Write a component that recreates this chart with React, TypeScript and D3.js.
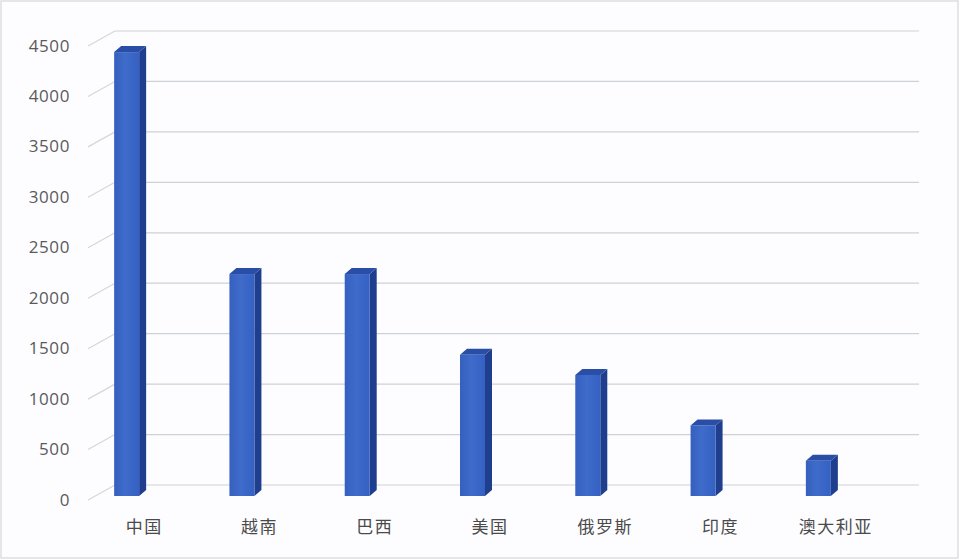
import React, { useEffect, useRef } from 'react';
import { scaleBand, scaleLinear, select, range } from 'd3';

const categories = ['中国', '越南', '巴西', '美国', '俄罗斯', '印度', '澳大利亚'];
const values = [4400, 2200, 2200, 1400, 1200, 700, 350];
const yTicks = [0, 500, 1000, 1500, 2000, 2500, 3000, 3500, 4000, 4500];

const W = 960;
const H = 560;
// 3d wall offset (floor depth) and bar depth
const wallDx = 27, wallDy = -15;
const barDx = 7, barDy = -6;

const App: React.FC = () => {
  const svgRef = useRef<SVGSVGElement>(null);

  useEffect(() => {
    const svg = select(svgRef.current);
    svg.selectAll('*').remove();

    const x = scaleBand<string>().domain(categories).range([86.5, 893.5]);
    const yBack = scaleLinear().domain([0, 4500]).range([485, 31]);
    const yFront = scaleLinear().domain([0, 4500]).range([496, 42]);

    const defs = svg.append('defs');
    const grad = defs.append('linearGradient').attr('id', 'front').attr('x1', 0).attr('x2', 1).attr('y1', 0).attr('y2', 0);
    grad.append('stop').attr('offset', '0%').attr('stop-color', '#3560c0');
    grad.append('stop').attr('offset', '45%').attr('stop-color', '#3f6bcb');
    grad.append('stop').attr('offset', '100%').attr('stop-color', '#3461c2');

    // background + border
    svg.append('rect').attr('x', 1).attr('y', 1).attr('width', W - 3).attr('height', H - 3)
      .attr('fill', '#fdfdff').attr('stroke', '#dcdee2').attr('stroke-width', 1.5);

    // gridlines on back wall with diagonal side lines
    const grid = svg.append('g');
    grid.selectAll('.hline').data(yTicks).join('line')
      .attr('x1', 88 + wallDx).attr('x2', 919)
      .attr('y1', d => yBack(d)).attr('y2', d => yBack(d))
      .attr('stroke', '#cdd1d8').attr('stroke-width', 1.2);
    grid.selectAll('.dline').data(yTicks).join('line')
      .attr('x1', 88).attr('y1', d => yBack(d) - wallDy)
      .attr('x2', 88 + wallDx).attr('y2', d => yBack(d))
      .attr('stroke', '#d3d6dc').attr('stroke-width', 1.2);

    // y tick labels
    svg.append('g').selectAll('text').data(yTicks).join('text')
      .attr('x', 70).attr('y', d => yBack(d) - wallDy + 1)
      .attr('text-anchor', 'end').attr('dominant-baseline', 'middle')
      .attr('font-family', '"Open Sans", "DejaVu Sans", sans-serif')
      .attr('font-size', 17).attr('letter-spacing', 0.6).attr('fill', '#5a5a5a')
      .text(d => String(d));

    // bars: front face offset to the left of floor center (3d projection)
    const barW = 25;
    const shift = -30;
    const bars = svg.append('g').selectAll('g').data(range(categories.length)).join('g');
    const bx = (i: number) => (x(categories[i]) as number) + x.bandwidth() / 2 + shift;

    // side face
    bars.append('path')
      .attr('d', i => {
        const x0 = bx(i) + barW, y0 = yFront(values[i]), yb = yFront(0);
        return `M${x0},${y0} L${x0 + barDx},${y0 + barDy} L${x0 + barDx},${yb + barDy} L${x0},${yb} Z`;
      })
      .attr('fill', '#1f3f8e');
    // top face
    bars.append('path')
      .attr('d', i => {
        const x0 = bx(i), y0 = yFront(values[i]);
        return `M${x0},${y0} L${x0 + barDx},${y0 + barDy} L${x0 + barW + barDx},${y0 + barDy} L${x0 + barW},${y0} Z`;
      })
      .attr('fill', '#2a4ea5');
    // front face
    bars.append('rect')
      .attr('x', i => bx(i)).attr('width', barW)
      .attr('y', i => yFront(values[i]))
      .attr('height', i => yFront(0) - yFront(values[i]))
      .attr('fill', 'url(#front)');

    // category labels
    svg.append('g').selectAll('text').data(categories).join('text')
      .attr('x', d => (x(d) as number) + x.bandwidth() / 2)
      .attr('y', 528)
      .attr('text-anchor', 'middle').attr('dominant-baseline', 'middle')
      .attr('font-family', '"Noto Sans CJK SC", sans-serif')
      .attr('font-size', 17).attr('letter-spacing', 1.5).attr('fill', '#4a4a4a')
      .text(d => d);
  }, []);

  return (
    <div style={{ position: 'absolute', left: 0, top: 0 }}>
      <svg ref={svgRef} width={W} height={H} style={{ display: 'block' }} />
    </div>
  );
};

export default App;
